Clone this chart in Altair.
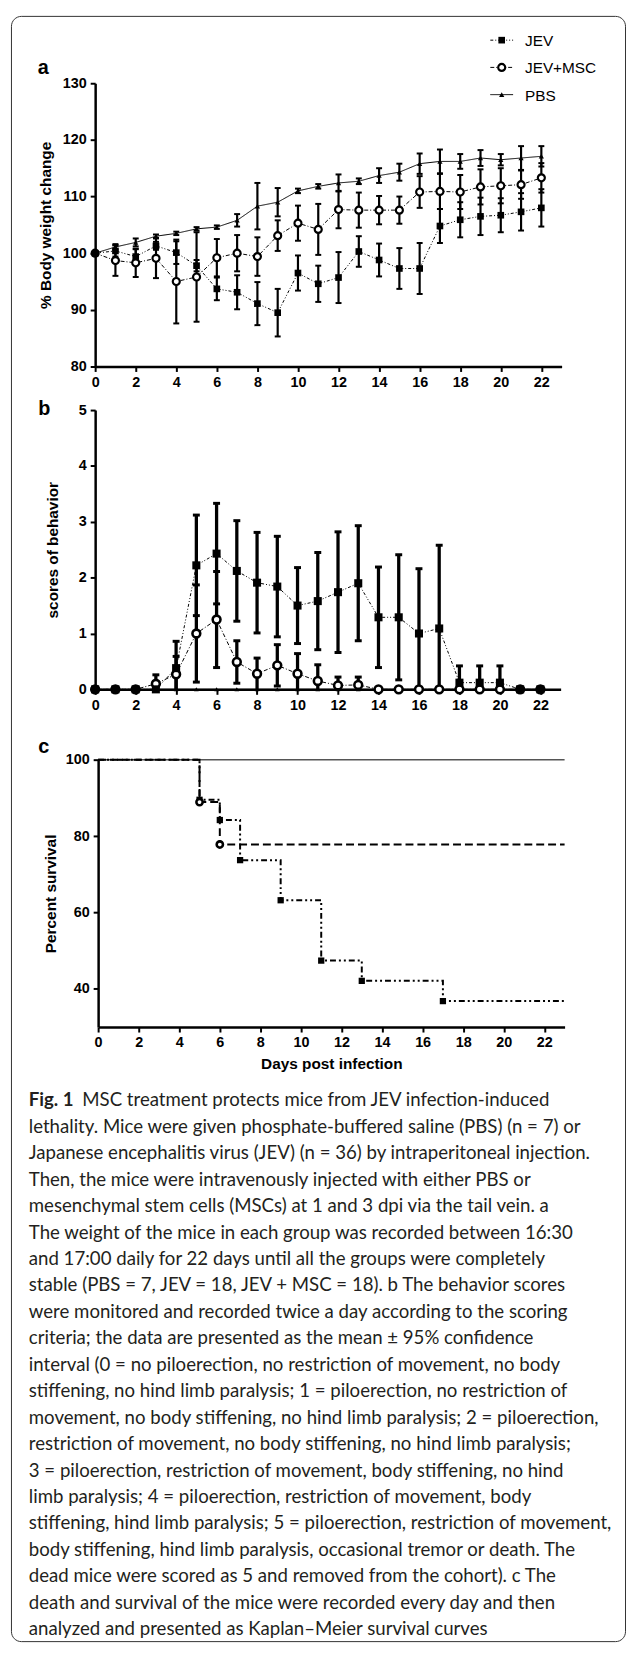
import altair as alt
import pandas as pd

# ---------------- data ----------------
SERIES = ["JEV", "JEV+MSC", "PBS"]
DAYS = [0, 1, 2, 3, 4, 5, 6, 7, 8, 9, 10, 11, 12, 13, 14, 15, 16, 17, 18, 19, 20, 21, 22]

# panel a: % body weight change (mean, error)
BW_JEV = [100.0, 100.4, 99.4, 101.3, 100.1, 97.8, 93.7, 93.1, 91.1, 89.5, 96.5, 94.6,
          95.7, 100.3, 98.8, 97.3, 97.3, 104.8, 105.9, 106.5, 106.7, 107.3, 108.0]
BW_JEV_ERR = [0, 1.0, 1.3, 0.7, 2.0, 1.0, 2.0, 3.0, 3.8, 4.2, 3.1, 3.2,
              4.5, 2.7, 2.9, 3.6, 4.5, 3.0, 3.1, 3.3, 3.0, 3.3, 3.3]
BW_MSC = [100.0, 98.7, 98.3, 99.1, 95.0, 95.8, 99.2, 100.0, 99.4, 103.1, 105.3, 104.2,
          107.7, 107.6, 107.6, 107.6, 110.8, 110.9, 110.8, 111.7, 111.9, 112.1, 113.3]
BW_MSC_ERR = [0, 2.7, 2.5, 3.5, 7.4, 7.9, 3.3, 3.2, 3.4, 2.7, 3.1, 4.5,
              3.3, 3.1, 2.5, 2.4, 2.8, 3.1, 3.0, 3.1, 3.1, 2.5, 2.6]
BW_PBS = [100.0, 101.1, 101.9, 103.0, 103.5, 104.3, 104.6, 105.8, 108.3, 109.0, 111.0, 111.8,
          112.4, 112.7, 113.7, 114.3, 115.8, 116.2, 116.2, 116.8, 116.5, 116.8, 117.1]
BW_PBS_ERR = [0, 0.5, 0.7, 0.3, 0.3, 0.3, 0.3, 1.1, 4.1, 2.5, 0.4, 0.4,
              1.5, 0.5, 1.3, 1.5, 1.8, 2.1, 1.3, 1.4, 1.0, 2.1, 1.8]

# panel b: scores of behavior (mean, 95% CI half width)
SC_JEV = [0, 0, 0, 0, 0.38, 2.22, 2.43, 2.12, 1.91, 1.84, 1.50, 1.58,
          1.74, 1.90, 1.29, 1.29, 1.00, 1.09, 0.12, 0.12, 0.12, 0, 0]
SC_JEV_ERR = [0, 0, 0, 0, 0.48, 0.90, 0.90, 0.90, 0.90, 0.90, 0.68, 0.87,
              1.08, 1.03, 0.90, 1.12, 1.16, 1.49, 0.30, 0.30, 0.30, 0, 0]
SC_MSC = [0, 0, 0, 0.10, 0.27, 1.00, 1.25, 0.49, 0.28, 0.43, 0.28, 0.15,
          0.07, 0.08, 0, 0, 0, 0, 0, 0, 0, 0, 0]
SC_MSC_ERR = [0, 0, 0, 0.16, 0.32, 0.87, 0.86, 0.38, 0.28, 0.37, 0.36, 0.29,
              0.15, 0.14, 0, 0, 0, 0, 0, 0, 0, 0, 0]
SC_PBS = [0, 0, 0, 0, 0, 0, 0, 0, 0, 0, 0, 0, 0, 0, 0, 0, 0, 0, 0, 0, 0, 0, 0]
SC_PBS_ERR = [0, 0, 0, 0, 0, 0, 0, 0, 0, 0, 0, 0, 0, 0, 0, 0, 0, 0, 0, 0, 0, 0, 0]

# panel c: Kaplan-Meier survival
SURV_JEV_T = [0, 5, 6, 7, 9, 11, 13, 17]
SURV_JEV = [100, 89.5, 84.2, 73.7, 63.2, 47.4, 42.1, 36.8]
SURV_MSC_T = [0, 5, 6]
SURV_MSC = [100, 88.9, 77.8]
SURV_PBS_T = [0]
SURV_PBS = [100]
SURV_END = 23

X_TICKS = [0, 2, 4, 6, 8, 10, 12, 14, 16, 18, 20, 22]
A_Y_TICKS = [80, 90, 100, 110, 120, 130]
B_Y_TICKS = [0, 1, 2, 3, 4, 5]
C_Y_TICKS = [40, 60, 80, 100]

A_Y_TITLE = "% Body weight change"
B_Y_TITLE = "scores of behavior"
C_Y_TITLE = "Percent survival"
C_X_TITLE = "Days post infection"
PANEL_LABELS = ["a", "b", "c"]

CAPTION_LINES = [
    "Fig. 1 MSC treatment protects mice from JEV infection-induced",
    "lethality. Mice were given phosphate-buffered saline (PBS) (n = 7) or",
    "Japanese encephalitis virus (JEV) (n = 36) by intraperitoneal injection.",
    "Then, the mice were intravenously injected with either PBS or",
    "mesenchymal stem cells (MSCs) at 1 and 3 dpi via the tail vein. a",
    "The weight of the mice in each group was recorded between 16:30",
    "and 17:00 daily for 22 days until all the groups were completely",
    "stable (PBS = 7, JEV = 18, JEV + MSC = 18). b The behavior scores",
    "were monitored and recorded twice a day according to the scoring",
    "criteria; the data are presented as the mean \u00b1 95% confidence",
    "interval (0 = no piloerection, no restriction of movement, no body",
    "stiffening, no hind limb paralysis; 1 = piloerection, no restriction of",
    "movement, no body stiffening, no hind limb paralysis; 2 = piloerection,",
    "restriction of movement, no body stiffening, no hind limb paralysis;",
    "3 = piloerection, restriction of movement, body stiffening, no hind",
    "limb paralysis; 4 = piloerection, restriction of movement, body",
    "stiffening, hind limb paralysis; 5 = piloerection, restriction of movement,",
    "body stiffening, hind limb paralysis, occasional tremor or death. The",
    "dead mice were scored as 5 and removed from the cohort). c The",
    "death and survival of the mice were recorded every day and then",
    "analyzed and presented as Kaplan\u2013Meier survival curves",
]
CAPTION_BOLD_LEAD = {0: "Fig. 1"}

# ---------------- layout / style ----------------
FONT = "Liberation Sans"
CAP_FONT = "Lato"
CAP_SIZE = 18.8
PLOT_LEFT = 96
CAP_X0 = 29
AFTER_X = {0: 83}
DASH_AB = [[3, 2, 1, 2, 1, 2], [4, 2, 1, 2], [1, 0]]


def summary(means, errs):
    rows = []
    for s, mm, ee in zip(SERIES, means, errs):
        for d, m, e in zip(DAYS, mm, ee):
            rows.append({"series": s, "day": d, "mean": m, "err": e,
                         "lo": max(m - e, 0), "hi": m + e})
    return pd.DataFrame(rows)


df_a = summary([BW_JEV, BW_MSC, BW_PBS], [BW_JEV_ERR, BW_MSC_ERR, BW_PBS_ERR])
df_b = summary([SC_JEV, SC_MSC, SC_PBS], [SC_JEV_ERR, SC_MSC_ERR, SC_PBS_ERR])

one = pd.DataFrame({"k": [0]})


def data_panel(df, ydomain, yticks, ytitle, title_x, height, width,
               sizes, bar_w, cap_w, cap_t):
    sx = alt.Scale(domain=[0, 23], nice=False, zero=False)
    sy = alt.Scale(domain=ydomain, nice=False, zero=False)
    ax_x = alt.Axis(values=X_TICKS, title=None, format="d")
    ax_y = alt.Axis(values=yticks, title=ytitle, titleX=title_x, titleY=height / 2,
                    titleAngle=270, titleBaseline="middle", titleAlign="center", format="d")
    X = alt.X("day:Q", scale=sx, axis=ax_x)

    def Y(f):
        return alt.Y(f, scale=sy, axis=ax_y)

    base = alt.Chart(df)
    eb = base.transform_filter("datum.err > 0")
    bars = eb.mark_rule(color="black", strokeWidth=bar_w).encode(x=X, y=Y("lo:Q"), y2="hi:Q")
    cap_hi = eb.mark_tick(orient="horizontal", size=cap_w, thickness=cap_t,
                          color="black", opacity=1).encode(x=X, y=Y("hi:Q"))
    cap_lo = eb.transform_filter("datum.lo > 0").mark_tick(
        orient="horizontal", size=cap_w, thickness=cap_t,
        color="black", opacity=1).encode(x=X, y=Y("lo:Q"))
    lines = base.mark_line(color="black", strokeWidth=1).encode(
        x=X, y=Y("mean:Q"), detail="series:N",
        strokeDash=alt.StrokeDash("series:N", scale=alt.Scale(domain=SERIES, range=DASH_AB),
                                  legend=None))
    sq_s, ci_s, ci_w, tr_s = sizes
    tri = base.transform_filter("datum.series == 'PBS'").mark_point(
        shape="triangle-up", filled=True, color="black", size=tr_s, opacity=1).encode(
        x=X, y=Y("mean:Q"))
    sq = base.transform_filter("datum.series == 'JEV'").mark_square(
        color="black", size=sq_s, opacity=1).encode(x=X, y=Y("mean:Q"))
    ci = base.transform_filter("datum.series == 'JEV+MSC'").mark_point(
        shape="circle", filled=True, fill="white", stroke="black", strokeWidth=ci_w,
        size=ci_s, opacity=1).encode(x=X, y=Y("mean:Q"))
    return alt.layer(bars, cap_hi, cap_lo, lines, tri, ci, sq)


def panel_label(idx, dx, dy):
    d = pd.DataFrame({"label": [PANEL_LABELS[idx]]})
    return alt.Chart(d).mark_text(font=FONT, fontSize=20, fontWeight="bold", align="left",
                                  baseline="alphabetic", color="black").encode(
        x=alt.value(dx), y=alt.value(dy), text="label:N")


# ---- panel a ----
A_W, A_H = 471, 286
layer_a = data_panel(df_a, [80, 130], A_Y_TICKS, A_Y_TITLE, -50, A_H, A_W,
                     (45, 50, 2.2, 28), 2.2, 6, 2)

leg_df = pd.DataFrame({"series": SERIES, "k": [0, 1, 2]})
LY = alt.Y("k:Q", scale=alt.Scale(domain=[0, 2], range=[-43.5, 11.5]), axis=None)
lbase = alt.Chart(leg_df)
leg_line = lbase.mark_rule(color="black", strokeWidth=1).encode(
    x=alt.value(399), x2=alt.value(422), y=LY,
    strokeDash=alt.StrokeDash("series:N", scale=alt.Scale(domain=SERIES, range=DASH_AB),
                              legend=None))
leg_tri = lbase.transform_filter("datum.series == 'PBS'").mark_point(
    shape="triangle-up", filled=True, color="black", size=28, opacity=1).encode(
    x=alt.value(410.5), y=LY)
leg_sq = lbase.transform_filter("datum.series == 'JEV'").mark_square(
    color="black", size=45, opacity=1).encode(x=alt.value(410.5), y=LY)
leg_ci = lbase.transform_filter("datum.series == 'JEV+MSC'").mark_point(
    shape="circle", filled=True, fill="white", stroke="black", strokeWidth=2.2,
    size=50, opacity=1).encode(x=alt.value(410.5), y=LY)
leg_txt = lbase.mark_text(align="left", baseline="middle", font=FONT, fontSize=15.5,
                          color="black", dy=1).encode(x=alt.value(434), y=LY, text="series:N")
legend = alt.layer(leg_line, leg_tri, leg_sq, leg_ci, leg_txt)

frame = alt.Chart(one).mark_rect(fillOpacity=0, stroke="#333333", strokeWidth=1,
                                 cornerRadius=10).encode(
    x=alt.value(11.5 - PLOT_LEFT), x2=alt.value(631.5 - PLOT_LEFT),
    y=alt.value(8.5 - 76), y2=alt.value(1649.5 - 76))

panel_a = alt.layer(layer_a, legend, panel_label(0, 38 - PLOT_LEFT, 67 - 76), frame).resolve_scale(
    y="independent").properties(width=A_W, height=A_H)

# ---- panel b ----
B_W, B_H = 470, 282
layer_b = data_panel(df_b, [0, 5], B_Y_TICKS, B_Y_TITLE, -43, B_H, B_W,
                     (66, 62, 2.6, 22), 3.3, 7, 3)
panel_b = alt.layer(layer_b, panel_label(1, 38.5 - PLOT_LEFT, 5)).properties(width=B_W, height=B_H)

# ---- panel c ----
C_W, C_H = 474, 297
rows = []
for s, ts, vs in zip(SERIES, [SURV_JEV_T, SURV_MSC_T, SURV_PBS_T], [SURV_JEV, SURV_MSC, SURV_PBS]):
    for t, v in zip(ts, vs):
        rows.append({"series": s, "t": t, "s": v, "drop": t > 0})
    rows.append({"series": s, "t": SURV_END, "s": vs[-1], "drop": False})
df_c = pd.DataFrame(rows)

sxc = alt.Scale(domain=[0, 23], range=[3, C_W], nice=False, zero=False)
syc = alt.Scale(domain=[30, 100], range=[C_H, 27], nice=False, zero=False)
XC = alt.X("t:Q", scale=sxc, axis=alt.Axis(values=X_TICKS, title=C_X_TITLE, format="d",
                                           titleY=42, titleBaseline="alphabetic"))
YC = alt.Y("s:Q", scale=syc, axis=alt.Axis(values=C_Y_TICKS, title=C_Y_TITLE, offset=-3,
                                           titleX=-48, titleY=(C_H + 27) / 2, titleAngle=270,
                                           titleBaseline="middle", titleAlign="center", format="d"))
cbase = alt.Chart(df_c)
c_pbs = cbase.transform_filter("datum.series == 'PBS'").mark_line(
    interpolate="step-after", color="#555555", strokeWidth=1.5).encode(x=XC, y=YC)
c_jev = cbase.transform_filter("datum.series == 'JEV'").mark_line(
    interpolate="step-after", color="black", strokeWidth=2,
    strokeDash=[6, 3, 2, 3, 2, 3]).encode(x=XC, y=YC)
c_msc = cbase.transform_filter("datum.series == 'JEV+MSC'").mark_line(
    interpolate="step-after", color="black", strokeWidth=2, strokeDash=[8, 4]).encode(x=XC, y=YC)
c_sq = cbase.transform_filter("datum.series == 'JEV' && datum.drop").mark_square(
    color="black", size=40, opacity=1).encode(x=XC, y=YC)
c_ci = cbase.transform_filter("datum.series == 'JEV+MSC' && datum.drop").mark_point(
    shape="circle", filled=True, fill="white", stroke="black", strokeWidth=2.6,
    size=40, opacity=1).encode(x=XC, y=YC)
panel_c = alt.layer(c_pbs, c_jev, c_msc, c_sq, c_ci,
                    panel_label(2, 38.5 - PLOT_LEFT, 20)).properties(width=C_W, height=C_H)

# ---- caption ----
cap_rows = []
for i, line in enumerate(CAPTION_LINES):
    lead = CAPTION_BOLD_LEAD.get(i)
    if lead and line.startswith(lead + " "):
        cap_rows.append({"line": i, "px": CAP_X0, "text": lead, "w": "bold"})
        cap_rows.append({"line": i, "px": AFTER_X[i], "text": line[len(lead) + 1:], "w": "normal"})
    else:
        cap_rows.append({"line": i, "px": CAP_X0, "text": line, "w": "normal"})
df_cap = pd.DataFrame(cap_rows)

CAP_TOP = 1073
CX = alt.X("px:Q", scale=alt.Scale(domain=[0, 634], range=[-PLOT_LEFT, 634 - PLOT_LEFT]), axis=None)
CY = alt.Y("line:Q", scale=alt.Scale(domain=[0, 20], range=[1109 - CAP_TOP, 1109 - CAP_TOP + 20 * 26.7]),
           axis=None)
capbase = alt.Chart(df_cap)
cap_reg = capbase.transform_filter("datum.w == 'normal'").mark_text(
    align="left", baseline="alphabetic", font=CAP_FONT, fontSize=CAP_SIZE, color="#231f20").encode(
    x=CX, y=CY, text="text:N")
cap_bold = capbase.transform_filter("datum.w == 'bold'").mark_text(
    align="left", baseline="alphabetic", font=CAP_FONT, fontSize=CAP_SIZE, fontWeight="bold",
    color="#231f20").encode(x=CX, y=CY, text="text:N")
caption = alt.layer(cap_reg, cap_bold).properties(width=C_W, height=560)

chart = alt.vconcat(panel_a, panel_b, panel_c, caption, spacing=44, bounds="flush").properties(
    padding={"left": 3, "top": 0, "right": 0, "bottom": 0}
).configure_view(stroke=None).configure_axis(
    domainColor="black", domainWidth=2.5, tickColor="black", tickWidth=2, tickSize=5,
    labelFont=FONT, labelFontSize=14.5, labelFontWeight="bold", labelColor="black",
    labelPadding=4, titleFont=FONT, titleFontSize=15.5, titleFontWeight="bold",
    titleColor="black", grid=False, labelFlush=False, labelOverlap=False
)

chart.save("out.html", embed_options={"renderer": "svg", "actions": False})
